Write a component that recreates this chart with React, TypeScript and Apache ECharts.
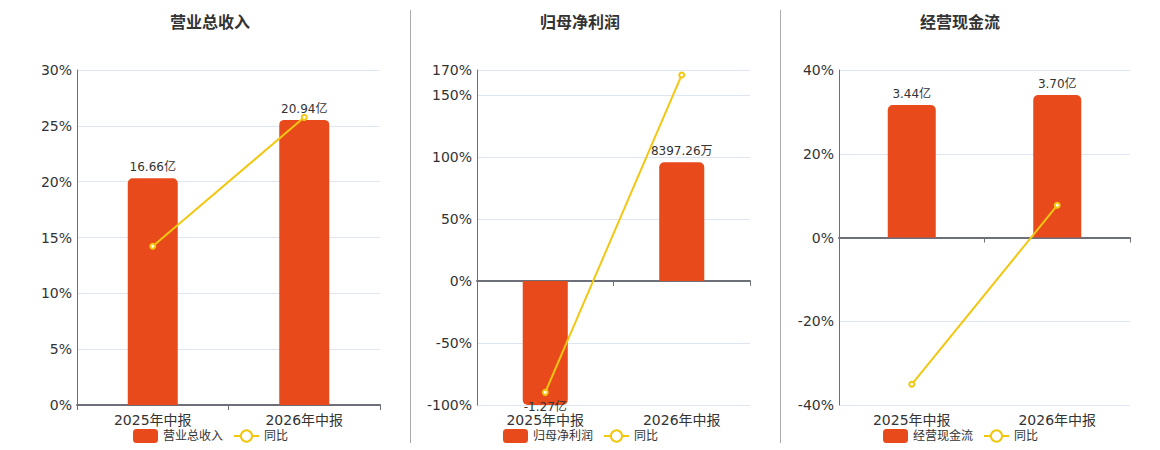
import React, { useEffect, useRef } from 'react';
import * as echarts from 'echarts';

// ---- data ----
const categories = ['2025年中报', '2026年中报'];
const panelTitles = ['营业总收入', '归母净利润', '经营现金流'];
const yoyName = '同比';
// bar values in 亿元
const revenue = [16.66, 20.94];
const netProfit = [-1.27, 0.839726];
const cashFlow = [3.44, 3.7];
// year-on-year change, %
const revenueYoY = [14.21, 25.76];
const netProfitYoY = [-89.8, 166.0];
const cashFlowYoY = [-35.06, 7.69];
// percent axis ticks
const pctMin = [0, -100, -40];
const pctMax = [30, 170, 40];
const pctInterval = [5, 50, 20];

const barData = [revenue, netProfit, cashFlow];
const yoyData = [revenueYoY, netProfitYoY, cashFlowYoY];

// ---- layout ----
const grids = [
  { left: 77, top: 70, width: 303, height: 335 },
  { left: 477, top: 70, width: 273, height: 335 },
  { left: 839, top: 70, width: 291, height: 335 },
];
const centers = [210, 580, 960];
const dividers = [410.5, 780.5];

const BAR_COLOR = '#e84a1b';
const LINE_COLOR = '#f2c712';
const AXIS_COLOR = '#6e7079';
const TEXT_COLOR = '#333';
const FONT = '"DejaVu Sans", "Noto Sans CJK SC", sans-serif';

function fmtAmount(v: number): string {
  if (Math.abs(v) >= 1) return v.toFixed(2) + '亿';
  return (v * 10000).toFixed(2) + '万';
}

export default function App() {
  const ref = useRef<HTMLDivElement>(null);

  useEffect(() => {
    if (!ref.current) return;
    const chart = echarts.init(ref.current, undefined, { renderer: 'svg' });

    const xAxis: any[] = [];
    const yAxis: any[] = [];
    const series: any[] = [];
    const legend: any[] = [];
    const graphic: any[] = [];

    for (let g = 0; g < 3; g++) {
      const bars = barData[g];
      const maxAbs = Math.max(...bars.map((v) => Math.abs(v)));
      const barMax = maxAbs * 1.175;
      const barMin = (pctMin[g] / pctMax[g]) * barMax;

      xAxis.push({
        type: 'category',
        gridIndex: g,
        data: categories,
        position: 'bottom',
        axisLine: { show: false },
        axisTick: { show: false },
        axisLabel: { fontSize: 14, color: TEXT_COLOR, margin: 8, fontFamily: FONT },
      });
      xAxis.push({
        type: 'category',
        gridIndex: g,
        data: categories,
        position: 'bottom',
        axisLine: {
          show: true,
          onZero: true,
          onZeroAxisIndex: 2 * g,
          lineStyle: { color: AXIS_COLOR, width: 2 },
        },
        axisTick: { show: true, length: 5, lineStyle: { color: AXIS_COLOR, width: 1 } },
        axisLabel: { show: false },
        splitLine: { show: false },
      });

      yAxis.push({
        type: 'value',
        gridIndex: g,
        position: 'left',
        min: pctMin[g],
        max: pctMax[g],
        interval: pctInterval[g],
        axisLine: { show: true, lineStyle: { color: AXIS_COLOR, width: 1 } },
        axisTick: { show: false },
        axisLabel: { formatter: '{value}%', fontSize: 14, color: TEXT_COLOR, margin: 5, fontFamily: FONT },
        splitLine: { show: true, lineStyle: { color: '#e0e6f1' } },
      });
      yAxis.push({
        type: 'value',
        gridIndex: g,
        min: barMin,
        max: barMax,
        show: false,
        splitLine: { show: false },
      });

      series.push({
        type: 'bar',
        name: panelTitles[g],
        xAxisIndex: 2 * g,
        yAxisIndex: 2 * g + 1,
        barWidth: '33%',
        clip: true,
        data: bars.map((v) => ({
          value: v,
          itemStyle: { borderRadius: v >= 0 ? [5, 5, 0, 0] : [0, 0, 5, 5] },
          label: v >= 0 ? { position: 'top', distance: 5 } : { position: 'bottom', distance: -4 },
        })),
        itemStyle: { color: BAR_COLOR },
        label: {
          show: true,
          fontSize: 12,
          color: TEXT_COLOR,
          fontFamily: FONT,
          formatter: (p: any) => fmtAmount(p.value),
        },
      });
      series.push({
        type: 'line',
        name: yoyName,
        xAxisIndex: 2 * g,
        yAxisIndex: 2 * g,
        data: yoyData[g],
        symbol: 'emptyCircle',
        symbolSize: 5,
        lineStyle: { color: LINE_COLOR, width: 2 },
        itemStyle: { color: LINE_COLOR, borderWidth: 1.5 },
        z: 3,
      });

      legend.push({
        data: [panelTitles[g], yoyName],
        left: centers[g] - 82,
        top: 424,
        itemWidth: 25,
        itemHeight: 14,
        itemGap: 10,
        textStyle: { fontSize: 12, color: TEXT_COLOR, fontFamily: FONT },
      });

      graphic.push({
        type: 'text',
        x: centers[g],
        y: 22,
        style: {
          text: panelTitles[g],
          textAlign: 'center',
          textVerticalAlign: 'middle',
          font: 'bold 16px ' + FONT,
          fill: TEXT_COLOR,
        },
      });
    }

    dividers.forEach((x) => {
      graphic.push({
        type: 'line',
        shape: { x1: x, y1: 10, x2: x, y2: 443 },
        style: { stroke: '#aaaaaa', lineWidth: 1 },
      });
    });

    chart.setOption({
      animation: false,
      grid: grids.map((gr) => ({ ...gr, containLabel: false })),
      xAxis,
      yAxis,
      series,
      legend,
      graphic,
      textStyle: { fontFamily: FONT },
    });

    return () => chart.dispose();
  }, []);

  return (
    <div
      ref={ref}
      style={{ position: 'absolute', left: 0, top: 0, width: 1160, height: 450, background: '#fff' }}
    />
  );
}
